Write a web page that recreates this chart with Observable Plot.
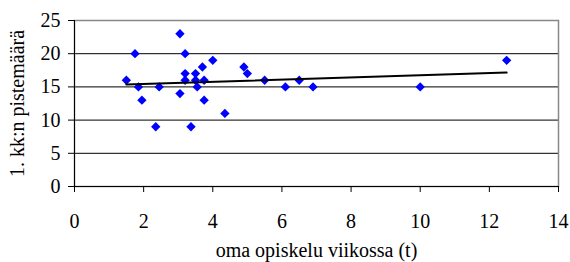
<!DOCTYPE html>
<html>
<head>
<meta charset="utf-8">
<script src="https://cdn.jsdelivr.net/npm/d3@7"></script>
<script src="https://cdn.jsdelivr.net/npm/@observablehq/plot@0.6"></script>
<style>
  html, body { margin: 0; padding: 0; background: #fff; }
  svg text { font-family: "Liberation Serif", "Times New Roman", serif !important; }
</style>
</head>
<body>
<div id="chart"></div>
<script>
const hours = [1.5, 1.75, 1.85, 1.95, 2.35, 2.45, 3.05, 3.05, 3.2, 3.2, 3.2, 3.37, 3.5, 3.5, 3.55, 3.7, 3.75, 3.75, 4.0, 4.35, 4.9, 5.0, 5.5, 6.1, 6.5, 6.9, 10, 12.5];
const scores = [16, 20, 15, 13, 9, 15, 23, 14, 20, 17, 16, 9, 17, 16, 15, 18, 16, 13, 19, 11, 18, 17, 16, 15, 16, 15, 15, 19];
const trendX = [1.5, 12.5];
const trendY = [15.35, 17.15];
const xTicks = [0, 2, 4, 6, 8, 10, 12, 14];
const yTicks = [0, 5, 10, 15, 20, 25];
const gridY = [5, 10, 15, 20];
const xTitle = "oma opiskelu viikossa (t)";
const yTitle = "1. kk:n pistemäärä";

const points = hours.map((h, i) => ({h, s: scores[i]}));
const trend = trendX.map((x, i) => ({x, y: trendY[i]}));

const chart = Plot.plot({
  width: 570,
  height: 262,
  marginLeft: 74,
  marginRight: 12,
  marginTop: 20,
  marginBottom: 76,
  style: {fontFamily: "'Liberation Serif', serif", fontSize: "20px", color: "#000", background: "#fff"},
  x: {domain: [0, 14]},
  y: {domain: [0, 25]},
  marks: [
    Plot.ruleY(gridY, {stroke: "#000", strokeWidth: 1}),
    Plot.frame({stroke: "#888", strokeWidth: 1.5}),
    Plot.ruleX([0], {stroke: "#000", strokeWidth: 1}),
    Plot.ruleY([0], {stroke: "#000", strokeWidth: 1}),
    Plot.axisX({ticks: xTicks, tickSize: 6, tickPadding: 21, fontSize: 20, label: null, stroke: "#000"}),
    Plot.axisY({ticks: yTicks, tickSize: 6, tickPadding: 8, fontSize: 20, label: null, stroke: "#000"}),
    Plot.dot(points, {x: "h", y: "s", symbol: "diamond2", r: 4.2, fill: "#0000ff", stroke: "none"}),
    Plot.line(trend, {x: "x", y: "y", stroke: "#000", strokeWidth: 2}),
    Plot.text([xTitle], {frameAnchor: "bottom", dy: 70, fontSize: 20, fill: "#000", textAnchor: "middle"}),
    Plot.text([yTitle], {frameAnchor: "left", dx: -57, rotate: -90, fontSize: 20, fill: "#000", textAnchor: "middle"})
  ]
});
document.getElementById("chart").appendChild(chart);
</script>
</body>
</html>
